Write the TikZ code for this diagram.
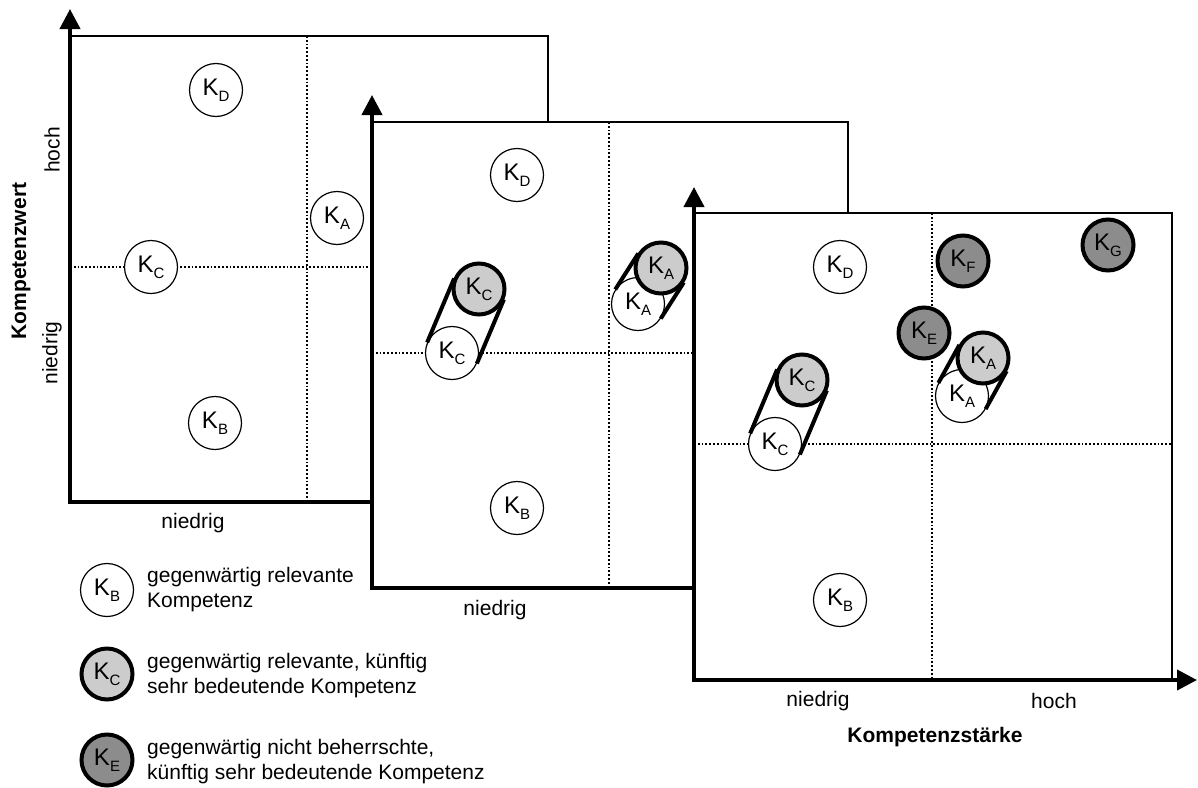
\documentclass[tikz,border=0pt]{standalone}
\usepackage{fontspec}
\setmainfont{Liberation Sans}
\usetikzlibrary{arrows.meta,calc}
\definecolor{lightg}{RGB}{204,204,204}
\definecolor{darkg}{RGB}{140,140,140}
\newcommand{\Klab}[1]{K\raisebox{-6pt}{\fontsize{15}{15}\selectfont #1}}
\begin{document}
\begin{tikzpicture}[x=1pt,y=-1pt,
  axis/.style={line width=4pt},
  arrowaxis/.style={line width=4pt,-{Triangle[width=20pt,length=20pt]}},
  frame/.style={line width=1.5pt},
  grid/.style={line width=2.2pt,dash pattern=on 1.8pt off 2pt},
  kbase/.style={circle,inner sep=0pt,font=\fontsize{24}{24}\selectfont},
  kw/.style={kbase,draw,line width=1.2pt,fill=white,minimum size=53pt},
  kl/.style={kbase,draw,line width=4pt,fill=lightg,minimum size=51pt},
  kd/.style={kbase,draw,line width=4pt,fill=darkg,minimum size=51pt},
  caps/.style={line width=4pt},
  lbl/.style={font=\fontsize{21}{25}\selectfont,inner sep=0pt},
  ttl/.style={font=\fontsize{21}{25}\selectfont\bfseries,inner sep=0pt},
  legtxt/.style={font=\fontsize{21}{25}\selectfont,align=left,anchor=west,inner sep=0pt}
]
\useasboundingbox (0,0) rectangle (1198,787);

% ---------- panel 1 ----------
\draw[frame] (70,36) -- (548,36) -- (548,502);
\draw[grid] (307,36) -- (307,502);
\draw[grid] (70,267) -- (548,267);
\draw[axis] (68,502) -- (560,502);
\draw[arrowaxis] (70,504) -- (70,9);
\node[kw] (p1D) at (216,90) {\Klab{D}};
\node[kw] (p1A) at (337,218) {\Klab{A}};
\node[kw] (p1C) at (151,267) {\Klab{C}};
\node[kw] (p1B) at (215,423) {\Klab{B}};
\node[lbl] (p1x) at (193,523) {niedrig};
\node[lbl,rotate=90] (p1yh) at (52,150) {hoch};
\node[lbl,rotate=90] (p1yn) at (52,353) {niedrig};
\node[ttl,rotate=90] (ytitle) at (21,261) {Kompetenzwert};

% ---------- panel 2 ----------
\fill[white] (372,122) rectangle (848,588);
\draw[frame] (372,122) -- (848,122) -- (848,588);
\draw[grid] (609,122) -- (609,588);
\draw[grid] (372,353) -- (848,353);
\draw[axis] (370,588) -- (860,588);
\draw[arrowaxis] (372,590) -- (372,95);
\node[kw] (p2D) at (517,175) {\Klab{D}};
\node[kw] (p2B) at (517,508) {\Klab{B}};
\coordinate (p2Cg) at (479,289);
\node[kw] (p2Cw) at (452,353) {\Klab{C}};
\draw[caps] ($(p2Cw.center)!27pt!90:(p2Cg)$) -- ($(p2Cg)!27pt!-90:(p2Cw.center)$);
\draw[caps] ($(p2Cw.center)!27pt!-90:(p2Cg)$) -- ($(p2Cg)!27pt!90:(p2Cw.center)$);
\node[kl] (p2C) at (p2Cg) {\Klab{C}};
\coordinate (p2Ag) at (661,268);
\node[kw] (p2Aw) at (638,304) {\Klab{A}};
\draw[caps] ($(p2Aw.center)!27pt!90:(p2Ag)$) -- ($(p2Ag)!27pt!-90:(p2Aw.center)$);
\draw[caps] ($(p2Aw.center)!27pt!-90:(p2Ag)$) -- ($(p2Ag)!27pt!90:(p2Aw.center)$);
\node[kl] (p2A) at (p2Ag) {\Klab{A}};
\node[lbl] (p2x) at (495,610) {niedrig};

% ---------- panel 3 ----------
\fill[white] (694,213) rectangle (1172,680);
\draw[frame] (694,213) -- (1172,213) -- (1172,680);
\draw[grid] (932,213) -- (932,680);
\draw[grid] (694,444) -- (1172,444);
\draw[arrowaxis] (692,680) -- (1197,680);
\draw[arrowaxis] (694,682) -- (694,187);
\node[kw] (p3D) at (840,267) {\Klab{D}};
\node[kd] (p3F) at (963,261) {\Klab{F}};
\node[kd] (p3G) at (1108,245) {\Klab{G}};
\node[kd] (p3E) at (924,333) {\Klab{E}};
\node[kw] (p3B) at (840,600) {\Klab{B}};
\coordinate (p3Cg) at (802,380);
\node[kw] (p3Cw) at (775,444) {\Klab{C}};
\draw[caps] ($(p3Cw.center)!27pt!90:(p3Cg)$) -- ($(p3Cg)!27pt!-90:(p3Cw.center)$);
\draw[caps] ($(p3Cw.center)!27pt!-90:(p3Cg)$) -- ($(p3Cg)!27pt!90:(p3Cw.center)$);
\node[kl] (p3C) at (p3Cg) {\Klab{C}};
\coordinate (p3Ag) at (983,358);
\node[kw] (p3Aw) at (962,396) {\Klab{A}};
\draw[caps] ($(p3Aw.center)!27pt!90:(p3Ag)$) -- ($(p3Ag)!27pt!-90:(p3Aw.center)$);
\draw[caps] ($(p3Aw.center)!27pt!-90:(p3Ag)$) -- ($(p3Ag)!27pt!90:(p3Aw.center)$);
\node[kl] (p3A) at (p3Ag) {\Klab{A}};
\node[lbl] (p3xn) at (818,701) {niedrig};
\node[lbl] (p3xh) at (1054,701) {hoch};
\node[ttl] (xtitle) at (935,737) {Kompetenzstärke};

% ---------- legend ----------
\node[kw] (lgB) at (107,590) {\Klab{B}};
\node[legtxt] (lgBt) at (147,590) {gegenwärtig relevante\\Kompetenz};
\node[kl] (lgC) at (107,674) {\Klab{C}};
\node[legtxt] (lgCt) at (147,676) {gegenwärtig relevante, künftig\\sehr bedeutende Kompetenz};
\node[kd] (lgE) at (107,760) {\Klab{E}};
\node[legtxt] (lgEt) at (147,762) {gegenwärtig nicht beherrschte,\\künftig sehr bedeutende Kompetenz};
\end{tikzpicture}
\end{document}
